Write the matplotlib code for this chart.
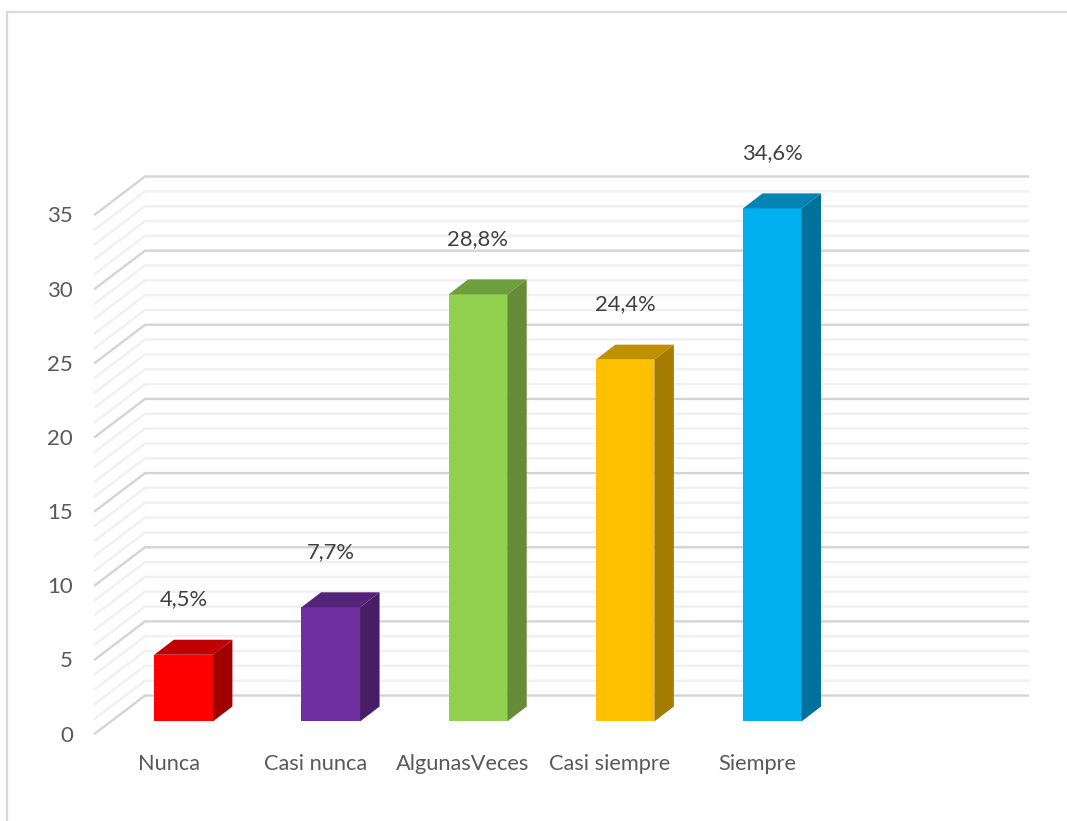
import matplotlib.pyplot as plt
from matplotlib.lines import Line2D
import numpy as np

categories = ["Nunca", "Casi nunca", "AlgunasVeces", "Casi siempre", "Siempre"]
values = [4.5, 7.7, 28.8, 24.4, 34.6]
labels = ["4,5%", "7,7%", "28,8%", "24,4%", "34,6%"]
y_ticks = [0, 5, 10, 15, 20, 25, 30, 35]
face = ["#FF0000", "#7030A0", "#92D050", "#FFC000", "#00B0F0"]
top = ["#C00000", "#54247A", "#6F9E3D", "#C09000", "#0085B5"]
side = ["#A20000", "#471E66", "#678C38", "#A67C00", "#00719B"]

plt.rcParams['font.family'] = ['Lato', 'DejaVu Sans']

W, H = 1067, 821
px_x = 147.0  # pixels per category
px_y = 14.83  # pixels per value unit
bar_w = 58.5 / px_x
dx = 19.5 / px_x
dy = 15 / px_y
# wall / floor corners relative to the bars' baseline
front_x, back_x, right_x = -0.602, -0.262, 5.738
front_y, back_y = -0.81, 1.75

fig = plt.figure(figsize=(W / 100, H / 100), dpi=100)
ax = fig.add_axes([95 / W, (H - 733.5) / H, (1028 - 95) / W, (733.5 - 176.5) / H])
ax.set_xlim(front_x, right_x)
ax.set_ylim(front_y, 36.75)
for s in ax.spines.values():
    s.set_visible(False)

# gridlines on wall and floor
for v in np.arange(0, 36):
    major = v % 5 == 0
    ax.plot([front_x, back_x, right_x], [v + front_y, v + back_y, v + back_y],
            color="#D4D4D4" if major else "#F0F0F0", lw=1.7, zorder=1,
            clip_on=False, solid_joinstyle="miter")

x = np.arange(len(values))
ax.bar(x, values, width=bar_w, color=face, zorder=3)
for i, v in enumerate(values):
    l, r = i - bar_w / 2, i + bar_w / 2
    ax.fill([l, r, r + dx, l + dx], [v, v, v + dy, v + dy], color=top[i], lw=0, zorder=3)
    ax.fill([r, r + dx, r + dx, r], [0, dy, v + dy, v], color=side[i], lw=0, zorder=3)
    ax.annotate(labels[i], (i, v), xytext=(0, 55.5 * 0.72), textcoords="offset points",
                ha="center", va="center", fontsize=15.8, color="#404040", zorder=4)

ax.set_xticks(x - 0.102, categories)
ax.set_yticks(np.array(y_ticks) + front_y, y_ticks)
ax.tick_params(axis="x", length=0, pad=15, labelsize=15.7, labelcolor="#595959")
ax.tick_params(axis="y", length=0, pad=16, labelsize=16, labelcolor="#595959")

# chart frame, only left and top are visible in the crop
fig.add_artist(Line2D([7 / W, 7 / W, 1], [0, (H - 12) / H, (H - 12) / H],
                      color="#D9D9D9", lw=1.6))

fig.savefig("out.png", dpi=100)
